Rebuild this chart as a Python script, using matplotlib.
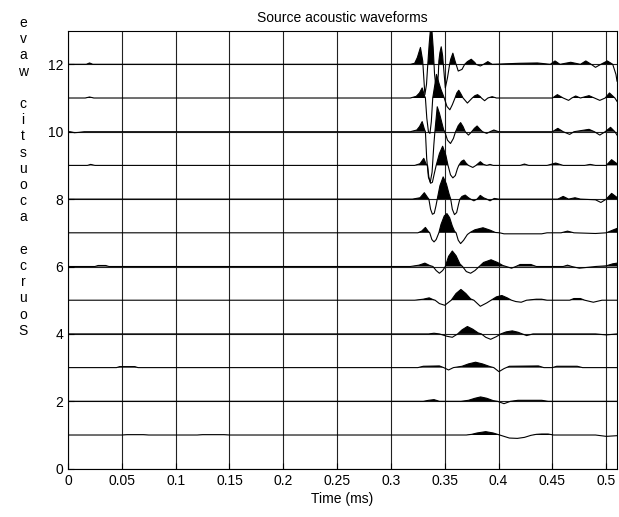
import numpy as np
import matplotlib
matplotlib.use("Agg")
from matplotlib import pyplot as plt

plt.rcParams['font.family'] = ['Liberation Sans', 'DejaVu Sans']

# trace offsets (source number) and the waveform knots
# each trace: times (ms) and amplitudes (in y units, relative to its baseline)
offsets = [1, 2, 3, 4, 5, 6, 7, 8, 9, 10, 11, 12]

t1 = [0, 0.05, 0.055, 0.07, 0.075, 0.12, 0.125, 0.145, 0.15, 0.37, 0.375, 0.38, 0.388, 0.395, 0.40, 0.404, 0.41,
      0.4174, 0.424, 0.43, 0.435, 0.44, 0.446, 0.451, 0.49, 0.5, 0.51]
a1 = [0, 0, 0.01, 0.01, 0, 0, 0.01, 0.01, 0, 0, 0.02, 0.06, 0.1, 0.06, 0.01, -0.03, -0.09,
      -0.1, -0.07, -0.01, 0.02, 0.03, 0.03, 0.0, 0.0, -0.04, -0.02]

t2 = [0, 0.33, 0.335, 0.34, 0.345, 0.365, 0.372, 0.378, 0.3833, 0.389, 0.395, 0.399, 0.405, 0.411, 0.418, 0.44,
      0.446, 0.51]
a2 = [0, 0, 0.03, 0.05, 0, 0, 0.03, 0.09, 0.13, 0.09, 0.02, 0, -0.07, 0, 0.03, 0.03,
      0, 0]

t3 = [0, 0.045, 0.048, 0.062, 0.065, 0.325, 0.33, 0.345, 0.349, 0.3535, 0.358, 0.366, 0.372, 0.3786, 0.385, 0.392,
      0.3955, 0.4003, 0.405, 0.41, 0.437, 0.442, 0.45, 0.454, 0.473, 0.478, 0.51]
a3 = [0, 0, 0.03, 0.03, 0, 0, 0.04, 0.05, 0, -0.07, 0, 0.04, 0.11, 0.16, 0.11, 0.03,
      0, -0.12, -0.03, 0.04, 0.05, 0, 0, 0.04, 0.04, 0, 0]

t4 = [0, 0.335, 0.34, 0.345, 0.352, 0.357, 0.362, 0.366, 0.371, 0.376, 0.381, 0.384, 0.388, 0.3926, 0.398, 0.402,
      0.407, 0.4127, 0.418, 0.422, 0.426, 0.432, 0.49, 0.5, 0.51]
a4 = [0, 0, 0.02, 0, -0.07, -0.1, 0, 0.12, 0.22, 0.14, 0.03, 0, -0.1, -0.16, -0.08, 0,
      0.06, 0.09, 0.05, 0, -0.05, 0, 0, -0.03, 0]

t5 = [0, 0.322, 0.33, 0.3355, 0.339, 0.341, 0.345, 0.35, 0.354, 0.356, 0.3605, 0.365, 0.3695, 0.374, 0.377, 0.383,
      0.389, 0.393, 0.398, 0.403, 0.408, 0.412, 0.416, 0.421, 0.426, 0.435, 0.44, 0.445, 0.466, 0.47, 0.476,
      0.48, 0.488, 0.496, 0.51]
a5 = [0, 0, 0.03, 0.07, 0.02, 0, -0.1, -0.15, -0.05, 0, 0.2, 0.32, 0.2, 0.04, 0, -0.18,
      -0.08, 0, 0.1, 0.14, 0.07, 0, -0.04, -0.06, 0, 0.03, 0.03, 0, 0, 0.05, 0.05,
      0, -0.06, 0, 0]

t6 = [0, 0.025, 0.028, 0.035, 0.038, 0.318, 0.326, 0.3315, 0.336, 0.339, 0.342, 0.345, 0.348, 0.3505, 0.3535, 0.357,
      0.3605, 0.364, 0.3665, 0.37, 0.374, 0.378, 0.382, 0.386, 0.393, 0.399, 0.404, 0.407, 0.412, 0.416, 0.42,
      0.43, 0.435, 0.46, 0.464, 0.468, 0.475, 0.49, 0.5, 0.506, 0.51]
a6 = [0, 0, 0.03, 0.03, 0, 0, 0.04, 0.1, 0.03, 0, -0.12, -0.2, -0.12, 0, 0.3, 0.46,
      0.32, 0.08, 0, -0.15, -0.2, -0.12, 0, 0.12, 0.2, 0.12, 0.03, 0, -0.05, 0, 0.06,
      0.06, 0, 0, 0.04, 0, -0.05, 0, 0.02, 0.08, 0.1]

t7 = [0, 0.325, 0.3285, 0.332, 0.3345, 0.336, 0.338, 0.34, 0.342, 0.3445, 0.3465, 0.3495, 0.352, 0.3545, 0.357,
      0.359, 0.3605, 0.3625, 0.3647, 0.3675, 0.371, 0.374, 0.378, 0.3855, 0.392, 0.397, 0.401, 0.405, 0.44,
      0.445, 0.458, 0.464, 0.47, 0.49, 0.5, 0.506, 0.51]
a7 = [0, 0, 0.05, 0.16, 0.05, 0, -0.2, -0.27, -0.2, 0, 0.25, 0.5, 0.57, 0.45, 0.2,
      0.05, 0, -0.22, -0.32, -0.22, -0.05, 0.02, 0.09, 0.15, 0.08, 0.01, 0, -0.03, -0.03,
      0, 0, 0.05, 0, -0.02, 0, 0.08, 0.13]

t8 = [0, 0.32, 0.327, 0.331, 0.334, 0.3352, 0.3368, 0.3385, 0.3402, 0.3418, 0.343, 0.3455, 0.3485, 0.3515, 0.354,
      0.3555, 0.357, 0.359, 0.361, 0.3628, 0.364, 0.366, 0.369, 0.372, 0.374, 0.377, 0.38, 0.383, 0.386, 0.389,
      0.392, 0.396, 0.4, 0.455, 0.46, 0.465, 0.471, 0.476, 0.49, 0.495, 0.5, 0.505, 0.51]
a8 = [0, 0, 0.04, 0.19, 0.05, 0, -0.3, -0.45, -0.42, -0.2, 0, 0.4, 0.66, 0.45, 0.15,
      0, -0.3, -0.46, -0.4, -0.15, 0, 0.08, 0.12, 0.04, 0, -0.05, 0, 0.11, 0.04, 0,
      -0.05, 0.02, 0, 0, 0.08, 0, 0.04, 0, -0.02, -0.1, 0, 0.17, 0.05]

t9 = [0, 0.018, 0.021, 0.025, 0.322, 0.327, 0.3305, 0.3325, 0.334, 0.3352, 0.3368, 0.3385, 0.3402, 0.342, 0.345,
      0.348, 0.351, 0.353, 0.3553, 0.3575, 0.3598, 0.3617, 0.363, 0.3655, 0.3677, 0.37, 0.372, 0.376, 0.379,
      0.383, 0.386, 0.389, 0.392, 0.395, 0.42, 0.424, 0.428, 0.445, 0.453, 0.46, 0.48, 0.485, 0.49, 0.5, 0.505,
      0.51]
a9 = [0, 0, 0.03, 0, 0, 0.05, 0.21, 0.05, 0, -0.35, -0.53, -0.5, -0.25, 0, 0.35,
      0.57, 0.3, 0, -0.28, -0.37, -0.3, -0.1, 0, 0.12, 0.16, 0.06, 0, -0.06, 0,
      0.11, 0.03, 0, 0.03, 0, 0, 0.04, 0, 0, 0.07, 0, 0, 0.03, 0, 0, 0.17,
      0.05]

t10 = [0, 0.002, 0.006, 0.01, 0.015, 0.318, 0.324, 0.3265, 0.329, 0.331, 0.332, 0.3332, 0.3348, 0.3365, 0.3382,
       0.3398, 0.3408, 0.343, 0.345, 0.347, 0.349, 0.35, 0.3525, 0.3553, 0.358, 0.36, 0.3625, 0.3647, 0.367,
       0.369, 0.372, 0.375, 0.3775, 0.38, 0.3825, 0.385, 0.389, 0.392, 0.3956, 0.4, 0.45, 0.455, 0.46, 0.466,
       0.47, 0.484, 0.489, 0.494, 0.499, 0.504, 0.508, 0.51]
a10 = [0, 0, -0.03, -0.02, 0, 0, 0.05, 0.15, 0.3, 0.08, 0, -0.8, -1.35, -1.5, -1.2,
       -0.4, 0, 0.74, 0.55, 0.3, 0.05, 0, -0.25, -0.35, -0.2, 0, 0.18, 0.27, 0.15,
       0, -0.1, 0, 0.1, 0.17, 0.08, 0, -0.05, 0, 0.05, 0, 0, 0.1, 0, -0.08,
       0, 0.07, 0, -0.1, 0, 0.13, 0, -0.1]

t11 = [0, 0.016, 0.02, 0.024, 0.318, 0.3235, 0.3265, 0.329, 0.331, 0.332, 0.3333, 0.3348, 0.3362, 0.3375, 0.3388,
       0.3423, 0.3445, 0.3465, 0.3495, 0.352, 0.3547, 0.357, 0.3595, 0.3612, 0.363, 0.365, 0.367, 0.371,
       0.3755, 0.378, 0.3805, 0.383, 0.384, 0.387, 0.39, 0.394, 0.398, 0.45, 0.4546, 0.46, 0.465, 0.468,
       0.4716, 0.476, 0.484, 0.489, 0.494, 0.499, 0.503, 0.508, 0.51]
a11 = [0, 0, 0.03, 0, 0, 0.05, 0.15, 0.3, 0.08, 0, -0.6, -1.0, -1.05, -0.7, 0,
       0.7, 0.45, 0.25, 0, -0.25, -0.35, -0.2, 0, 0.15, 0.23, 0.12, 0, -0.15,
       0, 0.07, 0.1, 0.04, 0, -0.08, 0, 0.04, 0, 0, 0.1, 0, -0.07, 0,
       0.06, 0, 0.07, 0, -0.07, 0, 0.15, 0, -0.1]

t12 = [0, 0.017, 0.02, 0.023, 0.318, 0.322, 0.3245, 0.3274, 0.3295, 0.3305, 0.3315, 0.333, 0.334, 0.3355, 0.3374,
       0.3392, 0.3405, 0.3425, 0.344, 0.3445, 0.3455, 0.3467, 0.348, 0.3485, 0.3505, 0.3525, 0.3545, 0.3555,
       0.3575, 0.3595, 0.3605, 0.3625, 0.366, 0.3685, 0.371, 0.3746, 0.378, 0.379, 0.383, 0.386, 0.39, 0.394,
       0.419, 0.436, 0.448, 0.4524, 0.457, 0.467, 0.476, 0.481, 0.486, 0.49, 0.495, 0.501, 0.506, 0.509, 0.51]
a12 = [0, 0, 0.04, 0, 0, 0.03, 0.2, 0.5, 0.1, -0.4, -0.9, -0.6, -0.1, 0.6, 1.3,
       0.5, -0.3, -0.9, -0.3, 0.1, 0.35, 0.52, 0.25, 0.05, -0.7, -0.4, 0, 0.15,
       0.33, 0.1, 0, -0.2, -0.15, 0, 0.08, 0.15, 0.05, 0, -0.05, 0, 0.08, 0,
       0.03, 0.04, 0, 0.1, 0, 0.06, 0, 0.1, 0, -0.09, 0, 0.1, 0, -0.3, -0.5]

times = [t1, t2, t3, t4, t5, t6, t7, t8, t9, t10, t11, t12]
amps = [a1, a2, a3, a4, a5, a6, a7, a8, a9, a10, a11, a12]

xticks = [0, 0.05, 0.1, 0.15, 0.2, 0.25, 0.3, 0.35, 0.4, 0.45, 0.5]
xticklabels = ['0', '0.05', '0.1', '0.15', '0.2', '0.25', '0.3', '0.35', '0.4', '0.45', '0.5']
yticks = [0, 2, 4, 6, 8, 10, 12]


def main():
    fig = plt.figure(figsize=(6.19, 5.17), dpi=100)
    ax = fig.add_axes([0.1099, 0.0934, 0.8869, 0.8474])

    for base, t, a in zip(offsets, times, amps):
        t = np.array(t)
        a = np.array(a)
        y = base + a
        ax.fill_between(t, base, y, where=a > 0, interpolate=True, color='k', lw=0)
        ax.plot(t, y, color='k', lw=0.8)

    ax.set_xlim(0, 0.51)
    ax.set_ylim(0, 13)
    ax.set_xticks(xticks)
    ax.set_xticklabels(xticklabels)
    ax.set_yticks(yticks)
    ax.grid(True, color='#222222', lw=0.8)
    ax.set_axisbelow(True)
    ax.tick_params(direction='in', labelsize=10, length=4)
    for s in ax.spines.values():
        s.set_linewidth(0.8)

    ax.set_title('Source acoustic waveforms', fontsize=10, pad=6)
    ax.set_xlabel('Time (ms)', fontsize=10, labelpad=3)

    # MATLAB-style stacked ylabel, letters upright and read from the bottom
    label = 'Source acoustic wave'
    fig.text(23 / 619, 1 - 16 / 517, '\n'.join(reversed(label)), ha='center', va='top',
             fontsize=10, linespacing=1.2)

    fig.savefig('out.png', dpi=100)


if __name__ == '__main__':
    main()
